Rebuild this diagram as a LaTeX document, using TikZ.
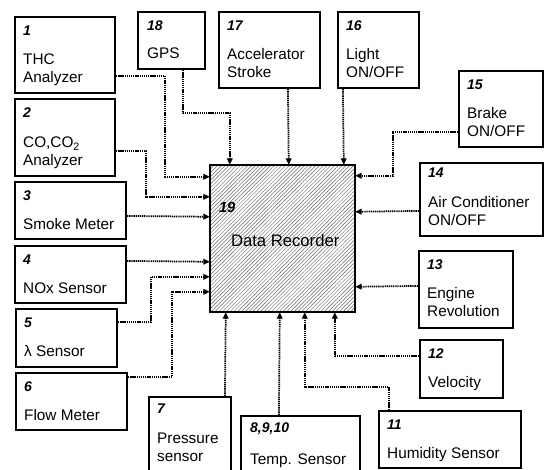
\documentclass[tikz,border=0pt]{standalone}
\usepackage{fontspec}
\setmainfont{Liberation Sans}
\usetikzlibrary{arrows.meta,patterns.meta,fit}

\tikzset{
    sensor/.style={
            draw=black,
            line width=1.6pt,
            inner sep=0pt
        },
    recorder/.style={
            draw=black,
            line width=1.8pt,
            inner sep=0pt,
            pattern={Lines[angle=45,distance=2pt,line width=0.35pt]},
            pattern color=black!60
        },
    tag/.style={
            anchor=base west,
            inner sep=0pt,
            font=\fontsize{10.5}{12}\selectfont\bfseries\itshape
        },
    % base west of a two-line text sits on its last line
    sensortext/.style={
            anchor=base west,
            inner sep=0pt,
            align=left,
            font=\fontsize{11.5}{13.5}\selectfont
        },
    link/.style={
            line width=1.3pt,
            dash pattern=on 1pt off 0.6pt,
            -{Triangle[length=4.8pt,width=4.2pt]}
        }
}

\begin{document}
\begin{tikzpicture}[x=0.75pt,y=-0.75pt]
  \useasboundingbox (0,0) rectangle (544,470);

  % Data recorder
  \node[recorder, fit={(210,165) (355,312)}] (rec) {};
  \node[tag, font=\fontsize{11}{12}\selectfont\bfseries\itshape] (rec-no) at ([shift={(9,48)}]rec.north west) {19};
  \node[sensortext, font=\fontsize{12.5}{14}\selectfont] (rec-txt) at ([shift={(21,82)}]rec.north west) {Data Recorder};

  % Sensors on the left
  \node[sensor, fit={(15,17) (115,93)}] (thc) {};
  \node[tag] (thc-no) at ([shift={(9,20)}]thc.north west) {1};
  \node[sensortext] (thc-txt) at ([shift={(9,66.5)}]thc.north west) {THC\\Analyzer};

  \node[sensor, fit={(15,99) (115,176)}] (cotwo) {};
  \node[tag] (cotwo-no) at ([shift={(9,20)}]cotwo.north west) {2};
  \node[sensortext] (cotwo-txt) at ([shift={(9,68)}]cotwo.north west) {CO,CO\textsubscript{2}\\Analyzer};

  \node[sensor, fit={(15,182) (126,239)}] (smoke) {};
  \node[tag] (smoke-no) at ([shift={(9,20)}]smoke.north west) {3};
  \node[sensortext] (smoke-txt) at ([shift={(9,48.5)}]smoke.north west) {Smoke Meter};

  \node[sensor, fit={(15,246) (126,303)}] (nox) {};
  \node[tag] (nox-no) at ([shift={(9,20)}]nox.north west) {4};
  \node[sensortext] (nox-txt) at ([shift={(9,48.5)}]nox.north west) {NOx Sensor};

  \node[sensor, fit={(16,309) (117,367)}] (lam) {};
  \node[tag] (lam-no) at ([shift={(9,20)}]lam.north west) {5};
  \node[sensortext] (lam-txt) at ([shift={(9,48.5)}]lam.north west) {λ Sensor};

  \node[sensor, fit={(16,373) (127,430)}] (flow) {};
  \node[tag] (flow-no) at ([shift={(9,20)}]flow.north west) {6};
  \node[sensortext] (flow-txt) at ([shift={(9,48.5)}]flow.north west) {Flow Meter};

  % Sensors below
  \node[sensor, fit={(149,397) (231,478)}] (press) {};
  \node[tag] (press-no) at ([shift={(9,18)}]press.north west) {7};
  \node[sensortext] (press-txt) at ([shift={(9,66)}]press.north west) {Pressure\\sensor};

  \node[sensor, fit={(241,416) (360,478)}] (temp) {};
  \node[tag] (temp-no) at ([shift={(10,18)}]temp.north west) {8,9,10};
  \node[sensortext] (temp-txt) at ([shift={(10,50)}]temp.north west) {Temp. Sensor};

  \node[sensor, fit={(379,411) (521,468)}] (humid) {};
  \node[tag] (humid-no) at ([shift={(9,20)}]humid.north west) {11};
  \node[sensortext] (humid-txt) at ([shift={(9,48.5)}]humid.north west) {Humidity Sensor};

  % Sensors on the right
  \node[sensor, fit={(420,340) (503,398)}] (velo) {};
  \node[tag] (velo-no) at ([shift={(9,20)}]velo.north west) {12};
  \node[sensortext] (velo-txt) at ([shift={(9,48.5)}]velo.north west) {Velocity};

  \node[sensor, fit={(419,251) (513,328)}] (engine) {};
  \node[tag] (engine-no) at ([shift={(9,20)}]engine.north west) {13};
  \node[sensortext] (engine-txt) at ([shift={(9,67)}]engine.north west) {Engine\\Revolution};

  \node[sensor, fit={(420,163) (543,236)}] (aircon) {};
  \node[tag] (aircon-no) at ([shift={(9,16)}]aircon.north west) {14};
  \node[sensortext] (aircon-txt) at ([shift={(9,63.5)}]aircon.north west) {Air Conditioner\\ON/OFF};

  \node[sensor, fit={(459,71) (543,147)}] (brake) {};
  \node[tag] (brake-no) at ([shift={(9,20)}]brake.north west) {15};
  \node[sensortext] (brake-txt) at ([shift={(9,66.5)}]brake.north west) {Brake\\ON/OFF};

  % Sensors on top
  \node[sensor, fit={(338,12) (419,88)}] (light) {};
  \node[tag] (light-no) at ([shift={(9,20)}]light.north west) {16};
  \node[sensortext] (light-txt) at ([shift={(9,67)}]light.north west) {Light\\ON/OFF};

  \node[sensor, fit={(219,12) (320,88)}] (accel) {};
  \node[tag] (accel-no) at ([shift={(9,20)}]accel.north west) {17};
  \node[sensortext] (accel-txt) at ([shift={(9,67)}]accel.north west) {Accelerator\\Stroke};

  \node[sensor, fit={(138,12) (205,69)}] (gps) {};
  \node[tag] (gps-no) at ([shift={(10,20)}]gps.north west) {18};
  \node[sensortext] (gps-txt) at ([shift={(10,48)}]gps.north west) {GPS};

  % Signal lines into the recorder
  \draw[link] ([shift={(0,60)}]thc.north east) -- ++(49,0) |- ([shift={(0,12)}]rec.north west);
  \draw[link] ([shift={(0,53)}]cotwo.north east) -- ++(30,0) |- ([shift={(0,32)}]rec.north west);
  \draw[link] ([shift={(0,35)}]smoke.north east) -- ([shift={(0,52)}]rec.north west);
  \draw[link] ([shift={(0,16)}]nox.north east) -- ([shift={(0,97)}]rec.north west);
  \draw[link] ([shift={(0,14)}]lam.north east) -- ++(33,0) |- ([shift={(0,112)}]rec.north west);
  \draw[link] ([shift={(0,5)}]flow.north east) -- ++(44,0) |- ([shift={(0,127)}]rec.north west);
  \draw[link] ([shift={(77,0)}]press.north west) -- ([shift={(16,0)}]rec.south west);
  \draw[link] ([shift={(39,0)}]temp.north west) -- ([shift={(70,0)}]rec.south west);
  \draw[link] ([shift={(11,0)}]humid.north west) -- ++(0,-23) -| ([shift={(95,0)}]rec.south west);
  \draw[link] ([shift={(0,17)}]velo.north west) -| ([shift={(125,0)}]rec.south west);
  \draw[link] ([shift={(0,36)}]engine.north west) -- ([shift={(0,122)}]rec.north east);
  \draw[link] ([shift={(0,49)}]aircon.north west) -- ([shift={(0,47)}]rec.north east);
  \draw[link] ([shift={(0,62)}]brake.north west) -- ++(-65,0) |- ([shift={(0,11)}]rec.north east);
  \draw[link] ([shift={(6,0)}]light.south west) -- ([shift={(134,0)}]rec.north west);
  \draw[link] ([shift={(70,0)}]accel.south west) -- ([shift={(79,0)}]rec.north west);
  \draw[link] ([shift={(46,0)}]gps.south west) -- ++(0,43) -| ([shift={(20,0)}]rec.north west);
\end{tikzpicture}
\end{document}
